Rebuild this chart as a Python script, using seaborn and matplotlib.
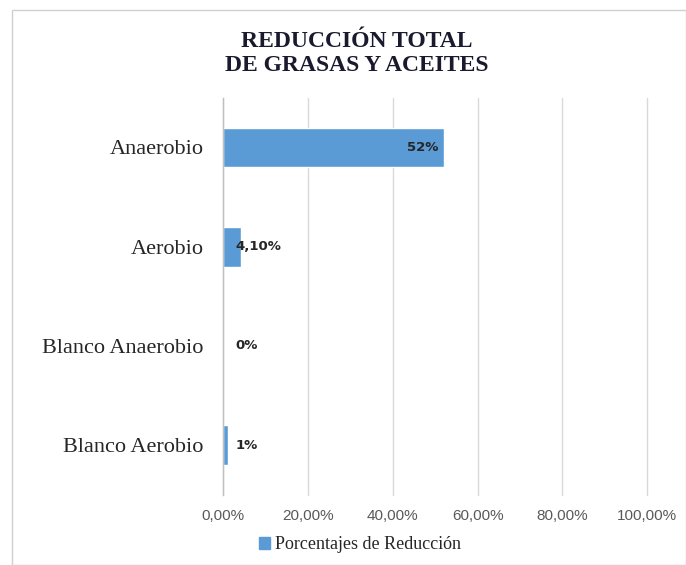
import matplotlib
matplotlib.use("Agg")
import matplotlib.pyplot as plt
import matplotlib.patches as mpatches
import seaborn as sns
import pandas as pd

categories = ["Anaerobio", "Aerobio", "Blanco Anaerobio", "Blanco Aerobio"]
values = [52.0, 4.1, 0.0, 1.0]
value_labels = ["52%", "4,10%", "0%", "1%"]
x_ticks = [0, 20, 40, 60, 80, 100]
x_tick_labels = ["0,00%", "20,00%", "40,00%", "60,00%", "80,00%", "100,00%"]
series_name = "Porcentajes de Reducción"
title = "REDUCCIÓN TOTAL\nDE GRASAS Y ACEITES"

df = pd.DataFrame({"cat": categories, "val": values})

sns.set_theme(style="white")
plt.rcParams["font.family"] = ["DejaVu Sans"]

bar_color = "#5B9BD5"
fig = plt.figure(figsize=(6.86, 5.65), dpi=100)
ax = fig.add_axes([0.3255, 0.124, 0.618, 0.703])

sns.barplot(data=df, x="val", y="cat", orient="h", color=bar_color,
            width=0.40, saturation=1, ax=ax, label=series_name)

ax.set_xlim(0, 100)
ax.set_xticks(x_ticks)
ax.set_xticklabels(x_tick_labels, fontsize=11, color="#595959",
                   family="Liberation Sans")
ax.tick_params(axis="x", length=0, pad=10)
ax.tick_params(axis="y", length=0, pad=14)
for lbl in ax.get_yticklabels():
    lbl.set_family("Liberation Serif")
    lbl.set_fontsize(16)
    lbl.set_color("#262626")
ax.set_xlabel("")
ax.set_ylabel("")
ax.grid(axis="x", color="#D9D9D9", linewidth=1)
for gl in ax.get_xgridlines():
    gl.set_clip_on(False)
ax.set_axisbelow(True)
for s in ["top", "right", "bottom"]:
    ax.spines[s].set_visible(False)
ax.spines["left"].set_color("#BFBFBF")
ax.spines["left"].set_linewidth(1)

for i, (v, t) in enumerate(zip(values, value_labels)):
    if v > 20:
        ax.text(v - 1.2, i, t, ha="right", va="center", fontsize=9.5,
                fontweight="bold", color="#262626", family="DejaVu Sans")
    else:
        ax.text(2.8, i, t, ha="left", va="center", fontsize=9.5,
                fontweight="bold", color="#262626", family="DejaVu Sans")

fig.text(0.52, 0.905, title, ha="center", va="center", fontsize=17,
         fontweight="bold", family="Liberation Serif", color="#1a1a2e",
         linespacing=1.2)

handle = mpatches.Patch(color=bar_color, label=series_name)
ax.legend(handles=[handle], loc="center", bbox_to_anchor=(0.525, 0.036),
          bbox_transform=fig.transFigure, frameon=False,
          handlelength=0.6, handleheight=0.6, handletextpad=0.3,
          prop={"family": "Liberation Serif", "size": 13})

border = mpatches.Rectangle((12 / 686, 0), 1 - 12 / 686, 1 - 10 / 565,
                            transform=fig.transFigure, fill=False,
                            edgecolor="#D0D0D0", linewidth=1)
fig.patches.append(border)

fig.savefig("out.png", dpi=100, facecolor="white")
